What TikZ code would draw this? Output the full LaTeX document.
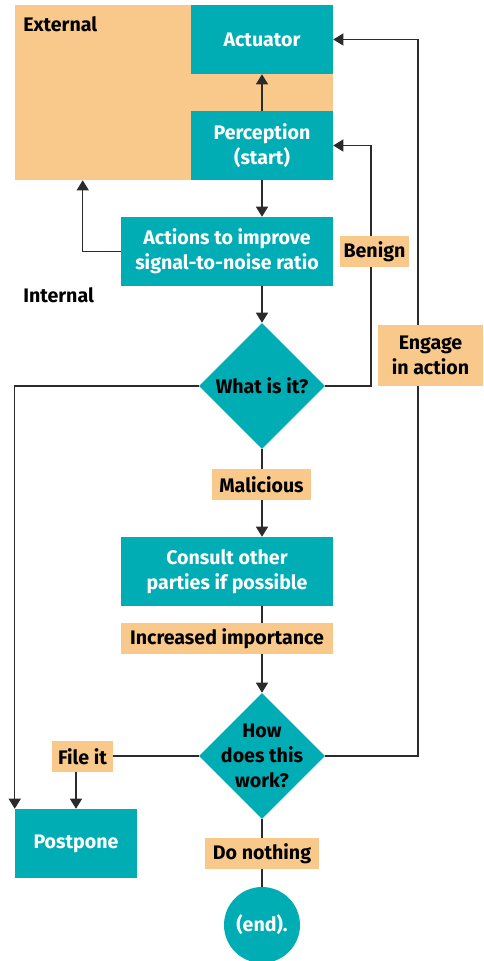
\documentclass[tikz,border=0pt]{standalone}
\usepackage{fontspec}
\setmainfont{Fira Sans}
\usetikzlibrary{arrows.meta,shapes.geometric,calc}
\definecolor{teal}{HTML}{00ADB5}
\definecolor{peach}{HTML}{F9C98B}
\definecolor{linec}{HTML}{2B2B2B}
\pgfdeclarelayer{bg}
\pgfdeclarelayer{lines}
\pgfsetlayers{bg,lines,main}
\tikzset{
  every node/.style={font=\fontsize{14.7pt}{18.75pt}\selectfont\bfseries, align=center, inner sep=0pt},
  tbox/.style={fill=teal, text=white},
  lbox/.style={fill=peach, text=black},
  ddia/.style={diamond, fill=teal, minimum width=94.5pt, minimum height=94.5pt, aspect=1},
  conn/.style={draw=linec, line width=0.9pt},
  arr/.style={conn, -{Triangle[length=7.5pt,width=9pt]}},
}
\begin{document}
\begin{tikzpicture}[x=0.75pt,y=-0.75pt]
\useasboundingbox (0,0) rectangle (483,961);
\begin{pgfonlayer}{bg}
\node[lbox, minimum width=238.5pt, minimum height=131.25pt] (ext) at (174,92.5) {};
\end{pgfonlayer}
\node[anchor=base west] (exttxt) at (23,31) {External};
\node[anchor=base west] (inttxt) at (23,302) {Internal};
\node[tbox, minimum width=106.5pt, minimum height=51.75pt] (act) at (262,39.5) {Actuator};
\node[tbox, minimum width=106.5pt, minimum height=51.75pt] (perc) at (262,145.5) {Perception\\(start)};
\node[tbox, minimum width=159pt, minimum height=51.75pt] (actions) at (227,251.5) {Actions to improve\\signal-to-noise ratio};
\node[lbox, minimum width=51.75pt, minimum height=23.25pt] (benign) at (374.5,251.5) {Benign};
\node[lbox, minimum width=78.75pt, minimum height=45.75pt] (engage) at (430.5,355.5) {Engage\\in action};
\node[ddia] (what) at (262,386) {};
\node (whattxt) at (262,386) {What is it?};
\node[lbox, minimum width=74.25pt, minimum height=23.25pt] (mal) at (261.5,484.5) {Malicious};
\node[tbox, minimum width=159pt, minimum height=51.75pt] (consult) at (227,571.5) {Consult other\\parties if possible};
\node[lbox, minimum width=159pt, minimum height=23.25pt] (incr) at (227,638.5) {Increased importance};
\node[ddia] (how) at (262,756) {};
\node (howtxt) at (262,756) {How\\does this\\work?};
\node[lbox, minimum width=45.75pt, minimum height=23.25pt] (file) at (82.5,756.5) {File it};
\node[tbox, minimum width=91.5pt, minimum height=51.75pt] (post) at (76,843.5) {Postpone};
\node[lbox, minimum width=85.5pt, minimum height=23.25pt] (nothing) at (262,853.5) {Do nothing};
\node[tbox, circle, minimum size=57pt] (end) at (262,925) {(end).};
\begin{pgfonlayer}{lines}
\draw[arr] (perc.north) -- (act.south);
\draw[arr] (perc.south) -- (perc.south |- actions.north);
\draw[arr] (actions.west) -| ([xshift=51pt]ext.south west);
\draw[arr] (what.north |- actions.south) -- (what.north);
\draw[arr] (what.east) -| ([xshift=-2.6pt]benign.south) -- ([xshift=-2.6pt]benign.north) |- (perc.east);
\draw[arr] (what.west) -| (post.north west);
\draw[arr] (what.south) -- (what.south |- consult.north);
\draw[arr] (what.south |- consult.south) -- (how.north);
\draw[arr] (how.east) -| ([xshift=-9.4pt]engage.south) -- ([xshift=-9.4pt]engage.north) |- (act.east);
\draw[arr] (how.west) -| (post.north);
\draw[conn] (how.south) -- (end.north);
\end{pgfonlayer}
\end{tikzpicture}
\end{document}
